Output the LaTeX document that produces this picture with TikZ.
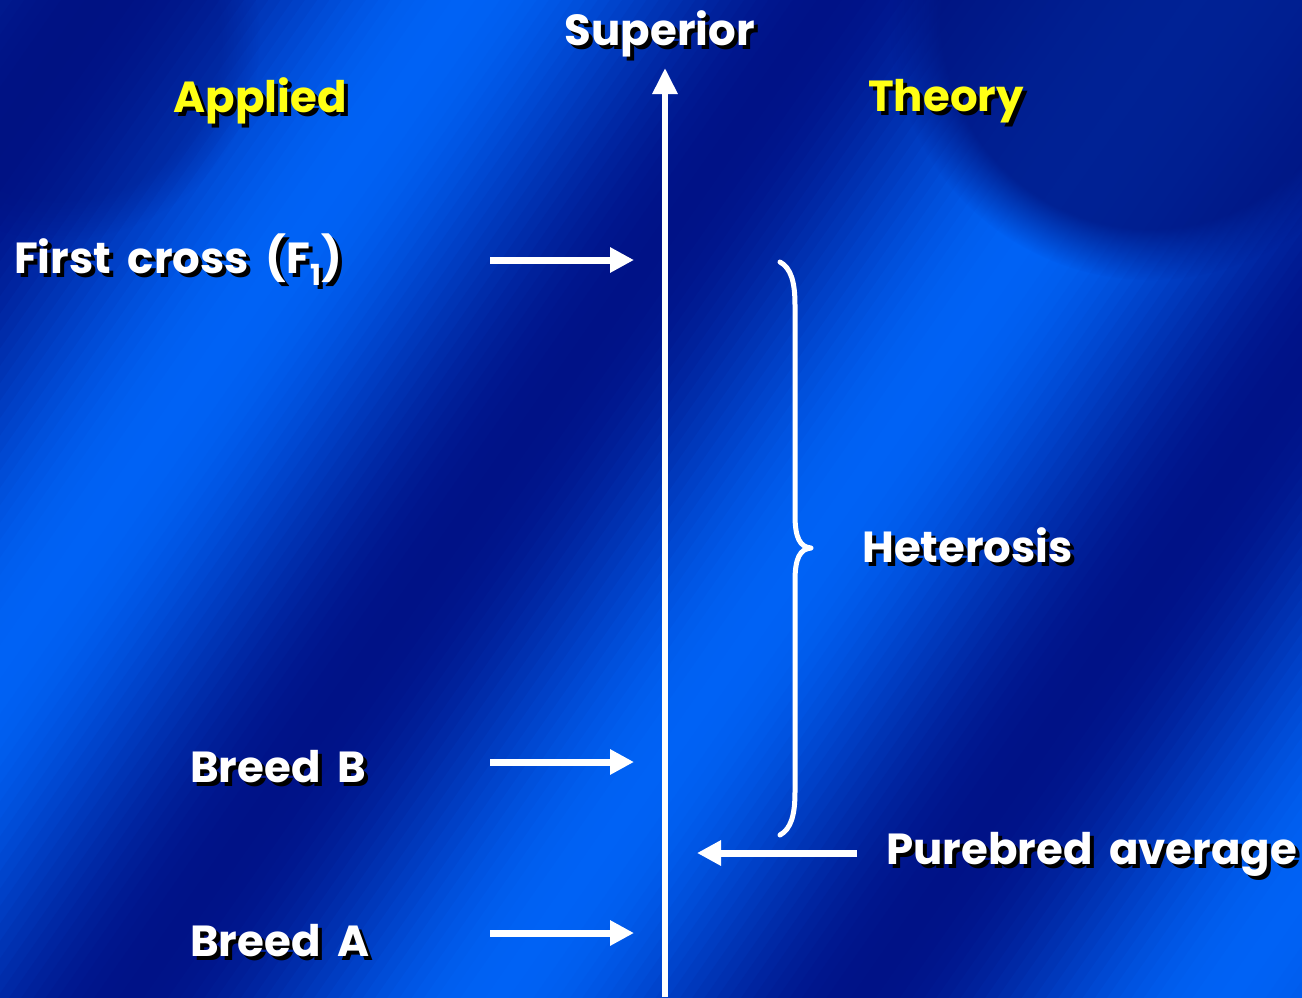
\documentclass[tikz,border=0pt]{standalone}
\usepackage{fontspec}
\setmainfont{Poppins}[WordSpace=1.8]
\usetikzlibrary{arrows.meta,fadings}
\definecolor{labyellow}{RGB}{255,255,20}
\definecolor{navy}{RGB}{0,18,125}
\newcommand\shd[2]{\makebox[0pt][l]{\hspace{4pt}\raisebox{-4pt}{\color{black}#2}}{\color{#1}#2}}
\newcommand\lowone{\raisebox{-0.28em}{\fontsize{29}{30}\selectfont 1}}
\tikzset{
  lab/.style={font=\fontsize{43.5}{48}\selectfont\bfseries, inner sep=0pt},
  axisline/.style={white, line width=6pt, -{Triangle[length=26pt,width=24pt]}},
  pointer/.style={white, line width=7pt, -{Triangle[length=24pt,width=24pt]}},
  bracepath/.style={white, line width=5pt, line cap=round, line join=round}
}
\begin{document}
\begin{tikzpicture}[x=1pt,y=-1pt]
\useasboundingbox (0,0) rectangle (1302,997);
% background
\begin{scope}
\clip (0,0) rectangle (1302,997);
\foreach \t in {-20,-10,...,1660}{
  \pgfmathsetmacro\bb{0.5+0.5*cos(0.6*(\t-375))}
  \pgfmathsetmacro\gg{(18+80*\bb)/255}
  \pgfmathsetmacro\bl{(135+110*\bb)/255}
  \definecolor{bandc}{rgb}{0,\gg,\bl}
  \fill[bandc] ({0.8*\t+700},{0.6*\t-1000}) -- ({0.8*(\t+11)+700},{0.6*(\t+11)-1000}) -- ({0.8*(\t+11)-700},{0.6*(\t+11)+1000}) -- ({0.8*\t-700},{0.6*\t+1000}) -- cycle;
}
\fill[navy, opacity=0.8, path fading=circle with fuzzy edge 20 percent] (1150,20) circle (260);
\fill[navy, opacity=0.35, path fading=circle with fuzzy edge 20 percent] (60,40) circle (200);
\end{scope}
% axis
\coordinate (axbot) at (665,997);
\coordinate (axtop) at (665,68);
\draw[axisline] (axbot) -- (axtop);
% labels
\node[lab] (sup) at (660,36) {\shd{white}{Superior}};
\node[lab] (app) at (260,103) {\shd{labyellow}{Applied}};
\node[lab] (the) at (946,103) {\shd{labyellow}{Theory}};
\node[lab, anchor=west] (f1) at (14,262) {\shd{white}{First cross (F\lowone)}};
\node[lab, anchor=west] (bb) at (190,769) {\shd{white}{Breed B}};
\node[lab, anchor=west] (ba) at (190,943) {\shd{white}{Breed A}};
\node[lab, anchor=west] (het) at (862,547) {\shd{white}{Heterosis}};
\node[lab, anchor=west] (pa) at (886,856) {\shd{white}{Purebred average}};
% pointers
\coordinate (f1s) at (490,260); \coordinate (f1e) at (634,260);
\coordinate (bbs) at (490,762); \coordinate (bbe) at (634,762);
\coordinate (bas) at (490,933); \coordinate (bae) at (634,933);
\coordinate (pas) at (857,853); \coordinate (pae) at (697,853);
\draw[pointer] (f1s) -- (f1e);
\draw[pointer] (bbs) -- (bbe);
\draw[pointer] (bas) -- (bae);
\draw[pointer] (pas) -- (pae);
% brace
\coordinate (brtop) at (780,262);
\coordinate (brtip) at (811,548);
\coordinate (brbot) at (780,835);
\draw[bracepath] (brtop) .. controls (791,268) and (795,282) .. (795,305)
  -- (795,515) .. controls (795,538) and (800,547) .. (brtip)
  .. controls (800,549) and (795,558) .. (795,581)
  -- (795,792) .. controls (795,815) and (791,829) .. (brbot);
\end{tikzpicture}
\end{document}
